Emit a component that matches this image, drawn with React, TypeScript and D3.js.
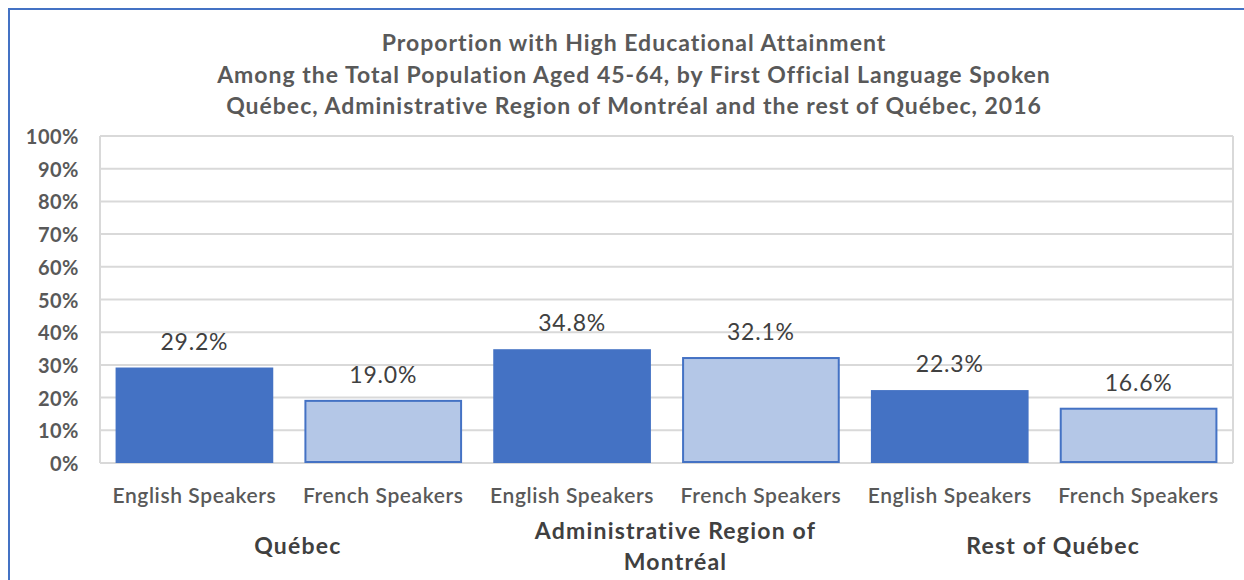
import React from 'react';
import * as d3 from 'd3';

// chart data
const regions = ['Québec', 'Administrative Region of Montréal', 'Rest of Québec'];
const regionLines = [['Québec'], ['Administrative Region of', 'Montréal'], ['Rest of Québec']];
const speakers = ['English Speakers', 'French Speakers'];
const english = [29.2, 34.8, 22.3];
const french = [19.0, 32.1, 16.6];
const yTicks = [0, 10, 20, 30, 40, 50, 60, 70, 80, 90, 100];
const titleLines = [
  'Proportion with High Educational Attainment',
  'Among the Total Population Aged 45-64, by First Official Language Spoken',
  'Québec, Administrative Region of Montréal and the rest of Québec, 2016',
];

const FONT = 'Lato, "Open Sans", sans-serif';

export default function App() {
  const W = 1244, H = 580;
  const margin = { top: 136, right: 11, bottom: 117, left: 100 };

  const bars = regions.flatMap((r, i) => [
    { key: r + '|' + speakers[0], region: r, speaker: speakers[0], value: english[i] },
    { key: r + '|' + speakers[1], region: r, speaker: speakers[1], value: french[i] },
  ]);

  const xScale = d3.scaleBand<string>()
    .domain(bars.map(d => d.key))
    .range([margin.left, W - margin.right])
    .paddingInner(0.165)
    .paddingOuter(0.0825);

  const yScale = d3.scaleLinear()
    .domain([0, 100])
    .range([H - margin.bottom, margin.top]);

  const plotL = margin.left, plotR = W - margin.right;
  const bw = xScale.bandwidth();

  return (
    <svg width={W} height={H} style={{ position: 'absolute', left: 0, top: 0, background: '#fff' }}>
      {/* outer frame, only top and left edges visible */}
      <rect x={9} y={9} width={W + 20} height={H + 20} fill="#fff" stroke="#4472C4" strokeWidth={2} />

      {titleLines.map((t, i) => (
        <text key={t} x={634} y={42 + i * 31.5} textAnchor="middle" dominantBaseline="central"
          fontFamily={FONT} fontWeight={700} fontSize={23} letterSpacing={1} fill="#595959">{t}</text>
      ))}

      {/* gridlines + plot border */}
      {yTicks.map(t => (
        <line key={t} x1={plotL} x2={plotR} y1={yScale(t)} y2={yScale(t)} stroke="#d9d9d9" strokeWidth={2} />
      ))}
      <line x1={plotL} x2={plotL} y1={yScale(100)} y2={yScale(0)} stroke="#d9d9d9" strokeWidth={2} />
      <line x1={plotR} x2={plotR} y1={yScale(100)} y2={yScale(0)} stroke="#d9d9d9" strokeWidth={2} />

      {yTicks.map(t => (
        <text key={'l' + t} x={79} y={yScale(t)} textAnchor="end" dominantBaseline="central"
          fontFamily={FONT} fontWeight={700} fontSize={20} letterSpacing={0.5} fill="#595959">{t + '%'}</text>
      ))}

      {bars.map(d => {
        const isEn = d.speaker === speakers[0];
        const x = xScale(d.key)!;
        return (
          <g key={d.key}>
            <rect x={isEn ? x : x + 1} y={yScale(d.value)} width={isEn ? bw : bw - 2}
              height={yScale(0) - yScale(d.value) - (isEn ? 0 : 1)}
              fill={isEn ? '#4472C4' : '#B4C7E7'} stroke={isEn ? 'none' : '#4472C4'} strokeWidth={2} />
            <text x={x + bw / 2} y={yScale(d.value) - 27} textAnchor="middle" dominantBaseline="central"
              fontFamily={FONT} fontSize={23} letterSpacing={0.8} fill="#404040">{d.value.toFixed(1) + '%'}</text>
            <text x={x + bw / 2} y={494} textAnchor="middle" dominantBaseline="central"
              fontFamily={FONT} fontWeight={600} fontSize={21} letterSpacing={0.6} fill="#595959">{d.speaker}</text>
          </g>
        );
      })}

      {regions.map((r, i) => {
        const x0 = xScale(bars[i * 2].key)!;
        const x1 = xScale(bars[i * 2 + 1].key)! + bw;
        const cx = (x0 + x1) / 2 + 9; // excel puts the group label a bit right of centre
        const lines = regionLines[i];
        const y0 = lines.length > 1 ? 530 : 545;
        return lines.map((ln, j) => (
          <text key={r + j} x={cx} y={y0 + j * 31} textAnchor="middle" dominantBaseline="central"
            fontFamily={FONT} fontWeight={700} fontSize={23} letterSpacing={1.2} fill="#404040">{ln}</text>
        ));
      })}
    </svg>
  );
}
